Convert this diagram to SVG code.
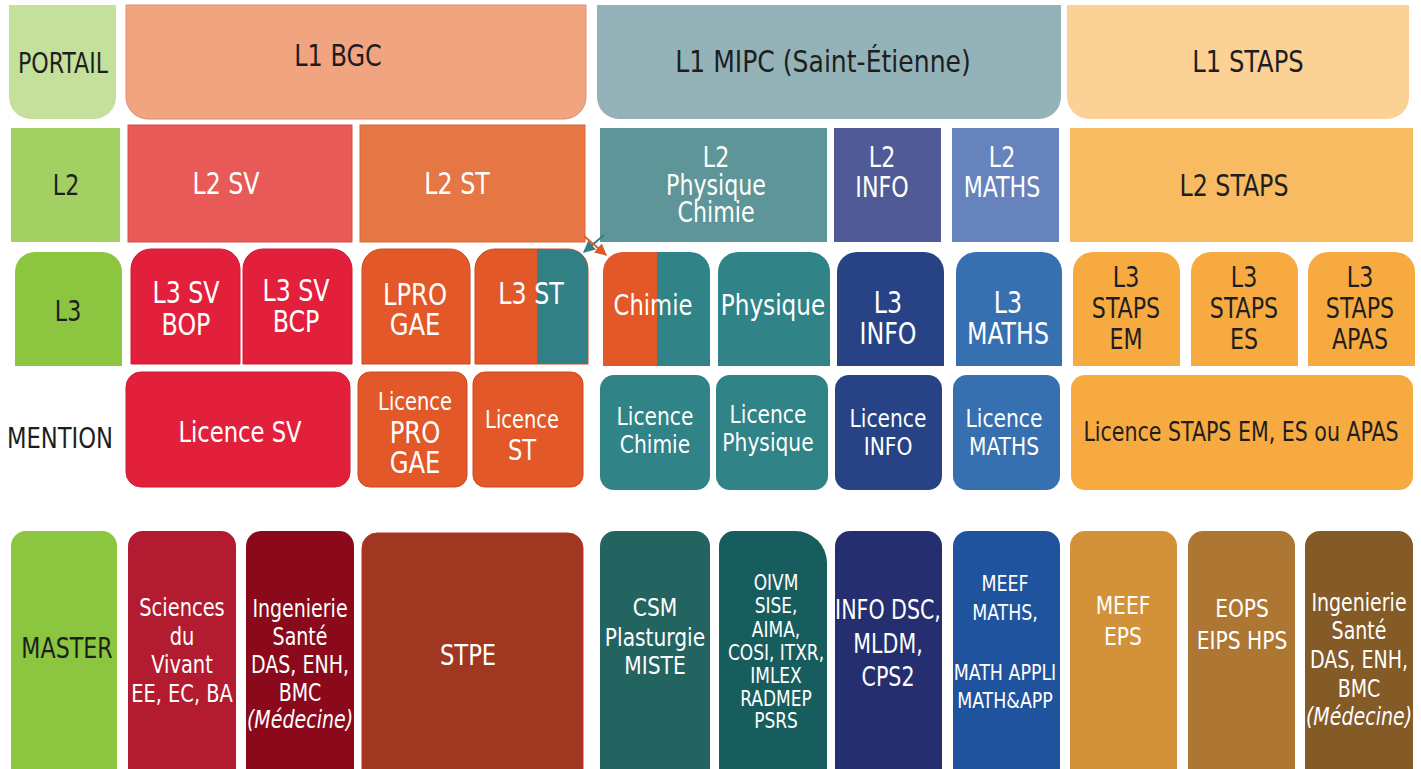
<svg xmlns="http://www.w3.org/2000/svg" width="1421" height="769" viewBox="0 0 1421 769">
<style>
text{font-family:"DejaVu Sans Condensed","Liberation Sans Narrow","Liberation Sans",sans-serif;font-stretch:condensed;text-anchor:middle;}
.w{fill:#ffffff;}
.d{fill:#1e1e1e;}
.s30{font-size:30px;}
.s28{font-size:28px;}
.s26{font-size:26px;}
.s25{font-size:25px;}
.s24{font-size:24px;}
.s22{font-size:22px;}
.s21{font-size:21px;}
.i{font-style:italic;}
</style>
<defs>
<marker id="mt" viewBox="0 0 10 10" refX="9" refY="5" markerWidth="6" markerHeight="6" orient="auto"><path d="M0,0 L10,5 L0,10 Z" fill="#2f7f86"/></marker>
<marker id="mo" viewBox="0 0 10 10" refX="9" refY="5" markerWidth="6" markerHeight="6" orient="auto"><path d="M0,0 L10,5 L0,10 Z" fill="#e25828"/></marker>
<clipPath id="cST"><path d="M475,364 V269 A20,20 0 0 1 495,249 H568 A20,20 0 0 1 588,269 V364 Z"/></clipPath>
<clipPath id="cCH"><path d="M603,366 V272 A20,20 0 0 1 623,252 H690 A20,20 0 0 1 710,272 V366 Z"/></clipPath>
</defs>

<!-- Row 1 -->
<g id="portail"><path d="M9,5 H116 V97 A22,22 0 0 1 94,119 H31 A22,22 0 0 1 9,97 Z" fill="#c5e09b"/><text class="d s28" transform="matrix(.88 0 0 1 63 0)" y="73">PORTAIL</text></g>
<g id="l1bgc"><path d="M126,5 H586 V97 A22,22 0 0 1 564,119 H148 A22,22 0 0 1 126,97 Z" fill="#f0a480" stroke="#e08c76" stroke-width="1"/><text class="d s30" transform="matrix(.89 0 0 1 338 0)" y="66">L1 BGC</text></g>
<g id="l1mipc"><path d="M597,5 H1061 V97 A22,22 0 0 1 1039,119 H619 A22,22 0 0 1 597,97 Z" fill="#94b3b8"/><text class="d s30" transform="matrix(.93 0 0 1 823 0)" y="72">L1 MIPC (Saint-Étienne)</text></g>
<g id="l1staps"><path d="M1067,5 H1409 V97 A22,22 0 0 1 1387,119 H1089 A22,22 0 0 1 1067,97 Z" fill="#fbd196"/><text class="d s30" transform="matrix(.9 0 0 1 1248 0)" y="72">L1 STAPS</text></g>

<!-- Row 2 -->
<g id="l2"><rect x="11" y="128" width="109" height="114" fill="#a3d063"/><text class="d s28" transform="matrix(.88 0 0 1 66 0)" y="195">L2</text></g>
<g id="l2sv"><rect x="128" y="125" width="224" height="117" fill="#e85a57" stroke="#d84a48" stroke-width="1"/><text class="w s30" transform="matrix(.88 0 0 1 226 0)" y="194">L2 SV</text></g>
<g id="l2st"><rect x="360" y="125" width="225" height="117" fill="#e57745" stroke="#d8683a" stroke-width="1"/><text class="w s30" transform="matrix(.88 0 0 1 457 0)" y="194">L2 ST</text></g>
<g id="l2pc"><rect x="600" y="128" width="227" height="114" fill="#5e9598"/><text class="w s28" transform="matrix(.88 0 0 1 716 0)" y="167">L2</text><text class="w s28" transform="matrix(.88 0 0 1 716 0)" y="195">Physique</text><text class="w s28" transform="matrix(.88 0 0 1 716 0)" y="222">Chimie</text></g>
<g id="l2info"><rect x="834" y="128" width="107" height="114" fill="#4f5a96"/><text class="w s28" transform="matrix(.88 0 0 1 882 0)" y="167">L2</text><text class="w s28" transform="matrix(.88 0 0 1 882 0)" y="197">INFO</text></g>
<g id="l2maths"><rect x="952" y="128" width="107" height="114" fill="#6783bd"/><text class="w s28" transform="matrix(.88 0 0 1 1002 0)" y="167">L2</text><text class="w s28" transform="matrix(.88 0 0 1 1002 0)" y="197">MATHS</text></g>
<g id="l2staps"><rect x="1070" y="128" width="343" height="114" fill="#f9bb61"/><text class="d s30" transform="matrix(.88 0 0 1 1234 0)" y="196">L2 STAPS</text></g>

<!-- Row 3 -->
<g id="l3"><path d="M15,366 V272 A20,20 0 0 1 35,252 H102 A20,20 0 0 1 122,272 V366 Z" fill="#8cc540"/><text class="d s28" transform="matrix(.88 0 0 1 68 0)" y="321">L3</text></g>
<g id="l3svbop"><path d="M131,364 V269 A20,20 0 0 1 151,249 H220 A20,20 0 0 1 240,269 V364 Z" fill="#e3203b" stroke="#c81c33" stroke-width="1"/><text class="w s30" transform="matrix(.88 0 0 1 186 0)" y="303">L3 SV</text><text class="w s30" transform="matrix(.88 0 0 1 186 0)" y="335">BOP</text></g>
<g id="l3svbcp"><path d="M243,364 V269 A20,20 0 0 1 263,249 H332 A20,20 0 0 1 352,269 V364 Z" fill="#e3203b" stroke="#c81c33" stroke-width="1"/><text class="w s30" transform="matrix(.88 0 0 1 296 0)" y="301">L3 SV</text><text class="w s30" transform="matrix(.88 0 0 1 296 0)" y="332">BCP</text></g>
<g id="lprogae"><path d="M362,364 V269 A20,20 0 0 1 382,249 H450 A20,20 0 0 1 470,269 V364 Z" fill="#e25828" stroke="#c94a22" stroke-width="1"/><text class="w s30" transform="matrix(.9 0 0 1 415 0)" y="305">LPRO</text><text class="w s30" transform="matrix(.9 0 0 1 415 0)" y="335">GAE</text></g>
<g id="l3st"><g clip-path="url(#cST)"><rect x="475" y="249" width="62" height="115" fill="#e25828"/><rect x="537" y="249" width="51" height="115" fill="#308086"/></g><path d="M475,364 V269 A20,20 0 0 1 495,249 H568 A20,20 0 0 1 588,269 V364 Z" fill="none" stroke="#c94a22" stroke-width="1"/><text class="w s30" transform="matrix(.88 0 0 1 531 0)" y="304">L3 ST</text></g>
<g id="l3chimie"><g clip-path="url(#cCH)"><rect x="603" y="252" width="54" height="114" fill="#e25828"/><rect x="657" y="252" width="53" height="114" fill="#308386"/></g><text class="w s28" transform="matrix(.9 0 0 1 653 0)" y="315">Chimie</text></g>
<g id="l3physique"><path d="M718,366 V272 A20,20 0 0 1 738,252 H810 A20,20 0 0 1 830,272 V366 Z" fill="#308386"/><text class="w s28" transform="matrix(.92 0 0 1 773 0)" y="315">Physique</text></g>
<g id="l3info"><path d="M837,366 V272 A20,20 0 0 1 857,252 H924 A20,20 0 0 1 944,272 V366 Z" fill="#274386"/><text class="w s30" transform="matrix(.88 0 0 1 888 0)" y="313">L3</text><text class="w s30" transform="matrix(.88 0 0 1 888 0)" y="344">INFO</text></g>
<g id="l3maths"><path d="M956,366 V272 A20,20 0 0 1 976,252 H1042 A20,20 0 0 1 1062,272 V366 Z" fill="#3670b0"/><text class="w s30" transform="matrix(.88 0 0 1 1008 0)" y="313">L3</text><text class="w s30" transform="matrix(.88 0 0 1 1008 0)" y="344">MATHS</text></g>
<g id="l3stapsem"><path d="M1073,366 V272 A20,20 0 0 1 1093,252 H1160 A20,20 0 0 1 1180,272 V366 Z" fill="#f7aa40"/><text class="d s28" transform="matrix(.88 0 0 1 1126 0)" y="287">L3</text><text class="d s28" transform="matrix(.88 0 0 1 1126 0)" y="318">STAPS</text><text class="d s28" transform="matrix(.88 0 0 1 1126 0)" y="349">EM</text></g>
<g id="l3stapses"><path d="M1191,366 V272 A20,20 0 0 1 1211,252 H1278 A20,20 0 0 1 1298,272 V366 Z" fill="#f7aa40"/><text class="d s28" transform="matrix(.88 0 0 1 1244 0)" y="287">L3</text><text class="d s28" transform="matrix(.88 0 0 1 1244 0)" y="318">STAPS</text><text class="d s28" transform="matrix(.88 0 0 1 1244 0)" y="349">ES</text></g>
<g id="l3stapsapas"><path d="M1308,366 V272 A20,20 0 0 1 1328,252 H1395 A20,20 0 0 1 1415,272 V366 Z" fill="#f7aa40"/><text class="d s28" transform="matrix(.88 0 0 1 1360 0)" y="287">L3</text><text class="d s28" transform="matrix(.88 0 0 1 1360 0)" y="318">STAPS</text><text class="d s28" transform="matrix(.88 0 0 1 1360 0)" y="349">APAS</text></g>

<!-- Row 4 -->
<g id="mention"><text class="d s28" transform="matrix(.9 0 0 1 60 0)" y="448">MENTION</text></g>
<g id="licsv"><rect x="126" y="372" width="224" height="115" rx="15" fill="#e3203b" stroke="#c81c33" stroke-width="1"/><text class="w s28" transform="matrix(.9 0 0 1 240 0)" y="442">Licence SV</text></g>
<g id="licpro"><rect x="358" y="372" width="109" height="115" rx="12" fill="#e25828" stroke="#c94a22" stroke-width="1"/><text class="w s24" transform="matrix(.9 0 0 1 415 0)" y="410">Licence</text><text class="w s30" transform="matrix(.9 0 0 1 415 0)" y="443">PRO</text><text class="w s30" transform="matrix(.9 0 0 1 415 0)" y="473">GAE</text></g>
<g id="licst"><rect x="473" y="372" width="110" height="115" rx="12" fill="#e25828" stroke="#c94a22" stroke-width="1"/><text class="w s24" transform="matrix(.9 0 0 1 522 0)" y="428">Licence</text><text class="w s28" transform="matrix(.9 0 0 1 522 0)" y="460">ST</text></g>
<g id="licchimie"><rect x="600" y="375" width="110" height="115" rx="14" fill="#308386"/><text class="w s25" transform="matrix(.9 0 0 1 655 0)" y="425">Licence</text><text class="w s25" transform="matrix(.9 0 0 1 655 0)" y="453">Chimie</text></g>
<g id="licphysique"><rect x="716" y="375" width="112" height="115" rx="14" fill="#308386"/><text class="w s25" transform="matrix(.9 0 0 1 768 0)" y="423">Licence</text><text class="w s25" transform="matrix(.9 0 0 1 768 0)" y="451">Physique</text></g>
<g id="licinfo"><rect x="835" y="375" width="107" height="115" rx="14" fill="#274386"/><text class="w s25" transform="matrix(.9 0 0 1 888 0)" y="427">Licence</text><text class="w s25" transform="matrix(.9 0 0 1 888 0)" y="455">INFO</text></g>
<g id="licmaths"><rect x="953" y="375" width="107" height="115" rx="14" fill="#3670b0"/><text class="w s25" transform="matrix(.9 0 0 1 1004 0)" y="427">Licence</text><text class="w s25" transform="matrix(.9 0 0 1 1004 0)" y="455">MATHS</text></g>
<g id="licstaps"><rect x="1071" y="375" width="342" height="115" rx="14" fill="#f7aa40"/><text class="d s26" transform="matrix(.88 0 0 1 1241 0)" y="441">Licence STAPS EM, ES ou APAS</text></g>

<!-- Row 5 -->
<g id="master"><path d="M11,775 V546 A15,15 0 0 1 26,531 H102 A15,15 0 0 1 117,546 V775 Z" fill="#8cc540"/><text class="d s28" transform="matrix(.88 0 0 1 67 0)" y="658">MASTER</text></g>
<g id="msv"><path d="M128,775 V546 A15,15 0 0 1 143,531 H221 A15,15 0 0 1 236,546 V775 Z" fill="#b31b30"/><text class="w s24" transform="matrix(.9 0 0 1 182 0)" y="616">Sciences</text><text class="w s24" transform="matrix(.9 0 0 1 182 0)" y="645">du</text><text class="w s24" transform="matrix(.9 0 0 1 182 0)" y="673">Vivant</text><text class="w s24" transform="matrix(.9 0 0 1 182 0)" y="702">EE, EC, BA</text></g>
<g id="mis1"><path d="M246,775 V546 A15,15 0 0 1 261,531 H339 A15,15 0 0 1 354,546 V775 Z" fill="#8a0a1c"/><text class="w s24" transform="matrix(.88 0 0 1 300 0)" y="617">Ingenierie</text><text class="w s24" transform="matrix(.88 0 0 1 300 0)" y="645">Santé</text><text class="w s24" transform="matrix(.88 0 0 1 300 0)" y="673">DAS, ENH,</text><text class="w s24" transform="matrix(.88 0 0 1 300 0)" y="701">BMC</text><text class="w s24 i" transform="matrix(.88 0 0 1 300 0)" y="728">(Médecine)</text></g>
<g id="mstpe"><path d="M362,775 V548 A15,15 0 0 1 377,533 H568 A15,15 0 0 1 583,548 V775 Z" fill="#a03821" stroke="#c0302a" stroke-width="1"/><text class="w s28" transform="matrix(.9 0 0 1 468 0)" y="665">STPE</text></g>
<g id="mcsm"><path d="M600,775 V546 A15,15 0 0 1 615,531 H695 A15,15 0 0 1 710,546 V775 Z" fill="#236461"/><text class="w s25" transform="matrix(.9 0 0 1 655 0)" y="616">CSM</text><text class="w s25" transform="matrix(.9 0 0 1 655 0)" y="646">Plasturgie</text><text class="w s25" transform="matrix(.9 0 0 1 655 0)" y="674">MISTE</text></g>
<g id="moivm"><path d="M719,775 V546 A15,15 0 0 1 734,531 H795 A32,32 0 0 1 827,563 V775 Z" fill="#185d5d"/><text class="w s21" transform="matrix(.9 0 0 1 776 0)" y="590">OIVM</text><text class="w s21" transform="matrix(.9 0 0 1 776 0)" y="613">SISE,</text><text class="w s21" transform="matrix(.9 0 0 1 776 0)" y="637">AIMA,</text><text class="w s21" transform="matrix(.9 0 0 1 776 0)" y="660">COSI, ITXR,</text><text class="w s21" transform="matrix(.9 0 0 1 776 0)" y="683">IMLEX</text><text class="w s21" transform="matrix(.9 0 0 1 776 0)" y="706">RADMEP</text><text class="w s21" transform="matrix(.9 0 0 1 776 0)" y="728">PSRS</text></g>
<g id="minfo"><path d="M835,775 V546 A15,15 0 0 1 850,531 H927 A15,15 0 0 1 942,546 V775 Z" fill="#252e6e"/><text class="w s26" transform="matrix(.88 0 0 1 888 0)" y="619">INFO DSC,</text><text class="w s26" transform="matrix(.88 0 0 1 888 0)" y="653">MLDM,</text><text class="w s26" transform="matrix(.88 0 0 1 888 0)" y="686">CPS2</text></g>
<g id="mmaths"><path d="M953,775 V546 A15,15 0 0 1 968,531 H1045 A15,15 0 0 1 1060,546 V775 Z" fill="#1f539e"/><text class="w s22" transform="matrix(.88 0 0 1 1005 0)" y="591">MEEF</text><text class="w s22" transform="matrix(.88 0 0 1 1005 0)" y="620">MATHS,</text><text class="w s22" transform="matrix(.88 0 0 1 1005 0)" y="680">MATH APPLI</text><text class="w s22" transform="matrix(.88 0 0 1 1005 0)" y="708">MATH&amp;APP</text></g>
<g id="mmeefeps"><path d="M1070,775 V546 A15,15 0 0 1 1085,531 H1162 A15,15 0 0 1 1177,546 V775 Z" fill="#d39239"/><text class="w s25" transform="matrix(.9 0 0 1 1123 0)" y="614">MEEF</text><text class="w s25" transform="matrix(.9 0 0 1 1123 0)" y="645">EPS</text></g>
<g id="meops"><path d="M1188,775 V546 A15,15 0 0 1 1203,531 H1280 A15,15 0 0 1 1295,546 V775 Z" fill="#ad7733"/><text class="w s25" transform="matrix(.9 0 0 1 1242 0)" y="617">EOPS</text><text class="w s25" transform="matrix(.9 0 0 1 1242 0)" y="649">EIPS HPS</text></g>
<g id="mis2"><path d="M1305,775 V546 A15,15 0 0 1 1320,531 H1398 A15,15 0 0 1 1413,546 V775 Z" fill="#845a26"/><text class="w s24" transform="matrix(.88 0 0 1 1359 0)" y="611">Ingenierie</text><text class="w s24" transform="matrix(.88 0 0 1 1359 0)" y="639">Santé</text><text class="w s24" transform="matrix(.88 0 0 1 1359 0)" y="668">DAS, ENH,</text><text class="w s24" transform="matrix(.88 0 0 1 1359 0)" y="697">BMC</text><text class="w s24 i" transform="matrix(.88 0 0 1 1359 0)" y="725">(Médecine)</text></g>

<!-- Connectors -->
<g id="connectors">
<line x1="604" y1="235" x2="584" y2="252" stroke="#2f7f86" stroke-width="2" marker-end="url(#mt)"/>
<line x1="584" y1="236" x2="606" y2="255" stroke="#e25828" stroke-width="2" marker-end="url(#mo)"/>
</g>
</svg>
